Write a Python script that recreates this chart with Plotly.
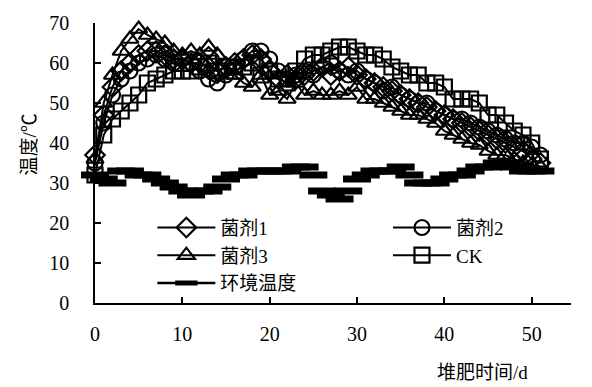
import plotly.graph_objects as go

days = list(range(0, 52))

agent1 = [37, 47, 54, 58, 60, 62, 63, 63, 62, 61, 61, 60, 60, 59, 58, 59, 60, 61, 62, 61,
          58, 56, 57, 56, 57, 58, 59, 57, 58, 59, 57, 56, 55, 54, 53, 52, 51, 50, 49, 48,
          47, 46, 45, 44, 43, 42, 41, 40, 39, 38, 36, 35]
agent2 = [35, 45, 52, 56, 58, 60, 61, 62, 61, 60, 61, 60, 58, 56, 55, 57, 59, 61, 63, 63,
          61, 58, 56, 57, 58, 57, 59, 60, 58, 57, 58, 56, 55, 53, 54, 52, 51, 50, 50, 48,
          47, 46, 46, 45, 44, 43, 42, 41, 40, 40, 39, 37]
agent3 = [36, 50, 57, 63, 66, 68.5, 67, 66, 65, 63, 62, 63, 62, 64, 62, 58, 57, 55, 54, 57,
          52, 53, 51, 55, 52, 53, 52, 52, 53, 52, 54, 51, 51, 50, 49, 48, 47, 47, 46, 45,
          43, 42, 41, 40, 39.5, 38, 37, 37, 36, 35, 34.5, 34]
ck = [32, 42, 46, 48, 50, 52, 55, 56, 57, 58, 58, 58, 59, 60, 58, 59, 58, 59, 60, 57,
      58, 56, 55, 58, 61, 62, 62, 63, 64, 64, 63, 62, 62, 61, 59, 58, 57, 57, 55, 55,
      54, 51, 51, 51, 50, 47, 47, 45, 43, 42, 40, 36]
ambient = [32, 31, 30, 33, 33, 32, 32, 31, 30, 29, 28, 27, 28, 28, 29, 31, 32, 32, 33, 33,
           33, 33, 33, 34, 34, 32, 28, 27, 26, 28, 31, 32, 33, 33, 33, 34, 32, 30, 30, 30,
           31, 32, 32, 33, 34, 34, 35, 35, 34, 33, 33, 33]

names = ["菌剂1", "菌剂2", "菌剂3", "CK", "环境温度"]
x_ticks = [0, 10, 20, 30, 40, 50]
y_ticks = [0, 10, 20, 30, 40, 50, 60, 70]

serif = "Liberation Serif, Noto Sans CJK SC"

fig = go.Figure()
series = [(agent1, "diamond-open", "legend"), (agent2, "circle-open", "legend2"),
          (agent3, "triangle-up-open", "legend"), (ck, "square-open", "legend2")]
for (vals, sym, lg), nm in zip(series, names[:4]):
    fig.add_trace(go.Scatter(
        x=days, y=vals, name=nm, mode="lines+markers", cliponaxis=False, legend=lg,
        line=dict(color="black", width=2),
        marker=dict(symbol=sym, size=15, color="black", line=dict(color="black", width=2.2)),
    ))
fig.add_trace(go.Scatter(
    x=days, y=ambient, name=names[4], mode="markers", cliponaxis=False, showlegend=False,
    marker=dict(symbol="line-ew", size=20, color="black", line=dict(color="black", width=7)),
))
# legend entry for the ambient series (line with thick dash)
fig.add_trace(go.Scatter(
    x=[None], y=[None], name=names[4], mode="lines+markers", legend="legend",
    line=dict(color="black", width=2.5),
    marker=dict(symbol="line-ew", size=16, color="black", line=dict(color="black", width=6)),
))

leg_common = dict(
    orientation="v", xanchor="left", yanchor="top", itemwidth=58,
    font=dict(family=serif, size=19, color="black"),
    bgcolor="rgba(0,0,0,0)", tracegroupgap=0, borderwidth=0,
)

fig.update_layout(
    width=592, height=387,
    margin=dict(l=95, r=21, t=20, b=84),
    paper_bgcolor="white", plot_bgcolor="white",
    font=dict(family=serif, size=19, color="black"),
    showlegend=True,
    legend=dict(x=0.1205, y=0.337, **leg_common),
    legend2=dict(x=0.6155, y=0.337, **leg_common),
    xaxis=dict(
        range=[0, 54.5], tickvals=x_ticks, ticks="inside", ticklen=6, tickwidth=1.5,
        tickcolor="black", showline=True, linecolor="black", linewidth=1.5,
        showgrid=False, zeroline=False, ticklabelstandoff=12,
        tickfont=dict(family=serif, size=20, color="black"),
    ),
    yaxis=dict(
        range=[0, 70], tickvals=y_ticks, ticks="inside", ticklen=6, tickwidth=1.5,
        tickcolor="black", showline=True, linecolor="black", linewidth=1.5,
        showgrid=False, zeroline=False, ticklabelstandoff=20,
        tickfont=dict(family=serif, size=20, color="black"),
    ),
    annotations=[
        dict(text="堆肥时间/d", xref="paper", yref="paper", x=0.815, y=-0.247,
             xanchor="center", yanchor="middle", showarrow=False,
             font=dict(family=serif, size=19, color="black")),
        dict(text="温度/℃", xref="paper", yref="paper", x=-0.137, y=0.565,
             xanchor="center", yanchor="middle", showarrow=False, textangle=-90,
             font=dict(family=serif, size=19, color="black")),
    ],
)

fig.write_html("out.html", config={"displayModeBar": False},
               post_script="document.body.style.margin='0';")
